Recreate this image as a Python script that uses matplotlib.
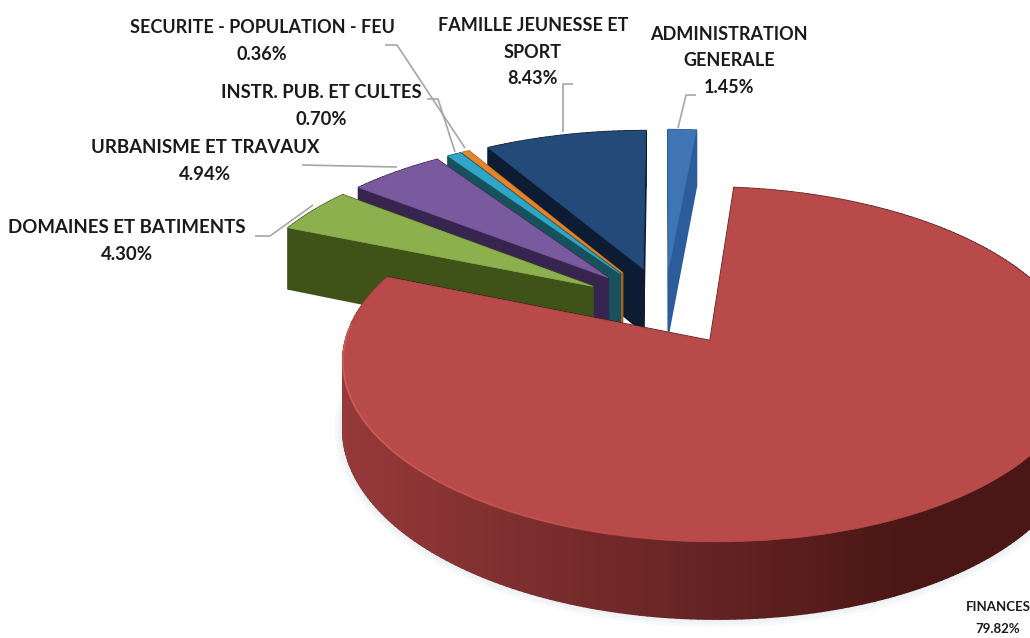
import numpy as np
import matplotlib
matplotlib.use("Agg")
import matplotlib.pyplot as plt
from matplotlib.collections import PolyCollection, LineCollection
from matplotlib.colors import to_rgb
from matplotlib.transforms import Transform

plt.rcParams['font.family'] = ['Lato', 'DejaVu Sans']

names = ["ADMINISTRATION\nGENERALE", "FINANCES", "DOMAINES ET BATIMENTS",
         "URBANISME ET TRAVAUX", "INSTR. PUB. ET CULTES",
         "SECURITE - POPULATION - FEU", "FAMILLE JEUNESSE ET\nSPORT"]
values = [1.45, 79.82, 4.30, 4.94, 0.70, 0.36, 8.43]

top_colors = ["#3F75B5", "#B84B4A", "#8DB04E", "#7A5A9E", "#2FA6C6", "#E5842B", "#234A78"]
wall_light = ["#2C5C9C", "#96393A", "#475C1C", "#38254F", "#17525C", "#A8621F", "#0E1C33"]
wall_dark = ["#2C5C9C", "#4A1716", "#3F5318", "#38254F", "#17525C", "#A8621F", "#0E1C33"]

# label centre, font size, line gap and leader line for each slice, in pixels
label_pos = [(729, 61), (998, 618), (127, 241), (205, 161), (321, 106), (262, 41), (533, 52)]
label_size = [13, 9.5, 13.4, 13.4, 13.2, 13, 13]
label_gap = [1.68, 2.0, 1.68, 1.68, 1.68, 1.68, 1.68]
leaders = [[(678, 128), (686, 95), (696, 95)],
           None,
           [(255, 236), (270, 236), (313, 205)],
           [(302, 165), (397, 167)],
           [(427, 99), (438, 99), (455, 152)],
           [(385, 45), (397, 45), (465, 148)],
           [(563, 132), (563, 84), (573, 84)]]

cx, cy = 665, 306      # where the pie axis lands
rx, ry = 355, 165      # size of the unit circle on screen
k = 0.13               # perspective
depth = 65


def project(u, v, z=0.0):
    s = 1 / (1 + k * np.asarray(v))
    return cx + rx * np.asarray(u) * s, cy - ry * np.asarray(v) * s + z * depth * s


class PieView(Transform):
    input_dims = 2
    output_dims = 2
    is_separable = False
    has_inverse = False

    def transform_non_affine(self, values):
        x, y = project(values[:, 0], values[:, 1])
        return np.column_stack([x, y])


def mix(a, b, t):
    a, b = np.array(to_rgb(a)), np.array(to_rgb(b))
    return tuple(a + (b - a) * t)


fig = plt.figure(figsize=(10.3, 6.38), dpi=100)
ax = fig.add_axes([0, 0, 1, 1])

wedges, _ = ax.pie(values, explode=[0.24] * len(values), startangle=90, counterclock=False,
                   colors=top_colors, radius=1)
ax.set_aspect('auto')
ax.set_xlim(0, 1030)
ax.set_ylim(638, 0)
ax.axis('off')

view = PieView() + ax.transData
order = sorted(range(len(wedges)), key=lambda i: -wedges[i].center[1])

for z, i in enumerate(order):
    w = wedges[i]
    c = np.array(w.center)
    th = np.radians(np.arange(w.theta1, w.theta2 + 1, 1.0))
    th = np.append(th[th < np.radians(w.theta2)], np.radians(w.theta2))
    u = c[0] + np.cos(th)
    v = c[1] + np.sin(th)

    faces = []
    cols = []
    depths = []
    # outer wall
    x0, y0 = project(u, v)
    x1, y1 = project(u, v, 1)
    for j in range(len(th) - 1):
        faces.append([(x0[j], y0[j]), (x0[j + 1], y0[j + 1]), (x1[j + 1], y1[j + 1]), (x1[j], y1[j])])
        t = np.clip((x0[j] - 342) / 560, 0, 1)
        cols.append(mix(wall_light[i], wall_dark[i], t))
        depths.append(-v[j])
    # the two flat faces of the slice
    for end in (0, -1):
        us = np.array([c[0], u[end]])
        vs = np.array([c[1], v[end]])
        xa, ya = project(us, vs)
        xb, yb = project(us, vs, 1)
        faces.append([(xa[0], ya[0]), (xa[1], ya[1]), (xb[1], yb[1]), (xb[0], yb[0])])
        cols.append(to_rgb(wall_dark[i]))
        depths.append(-vs.mean())
    idx = np.argsort(depths)
    pc = PolyCollection([faces[n] for n in idx], facecolors=[cols[n] for n in idx],
                        edgecolors=[cols[n] for n in idx], linewidths=1.4, zorder=2 + z * 3)
    ax.add_collection(pc)

    w.set_transform(view)
    w.set_zorder(3 + z * 3)
    w.set_edgecolor(top_colors[i])
    w.set_linewidth(0.5)

    if i == 1:
        # lit rim on the big slice
        segs = [[(x0[j], y0[j]), (x0[j + 1], y0[j + 1])] for j in range(len(th) - 1)]
        alpha = 0.7 * np.clip(1 - (x0[:-1] - 342) / 380, 0, 1) * (v[:-1] < c[1] + 0.1)
        rim = [to_rgb("#D9655C") + (a,) for a in alpha]
        ax.add_collection(LineCollection(segs, colors=rim, linewidths=1.3, zorder=4 + z * 3))
        # soft shadow under the front edge
        front = v < c[1]
        for lw in (12, 8, 4):
            ax.plot(x1[front], y1[front], color="#C9D6DE", lw=lw, alpha=0.13, zorder=1)

for name, value, size, gap, pos, line in zip(names, values, label_size, label_gap, label_pos, leaders):
    ax.text(pos[0], pos[1], f"{name}\n{value:.2f}%", ha='center', va='center', fontsize=size,
            fontweight='bold', color="#1a1a1a", linespacing=gap, zorder=60)
    if line:
        xs, ys = zip(*line)
        ax.plot(xs, ys, color="#A6A6A6", lw=1.2, zorder=59, solid_capstyle='butt')

fig.savefig("out.png", dpi=100)
